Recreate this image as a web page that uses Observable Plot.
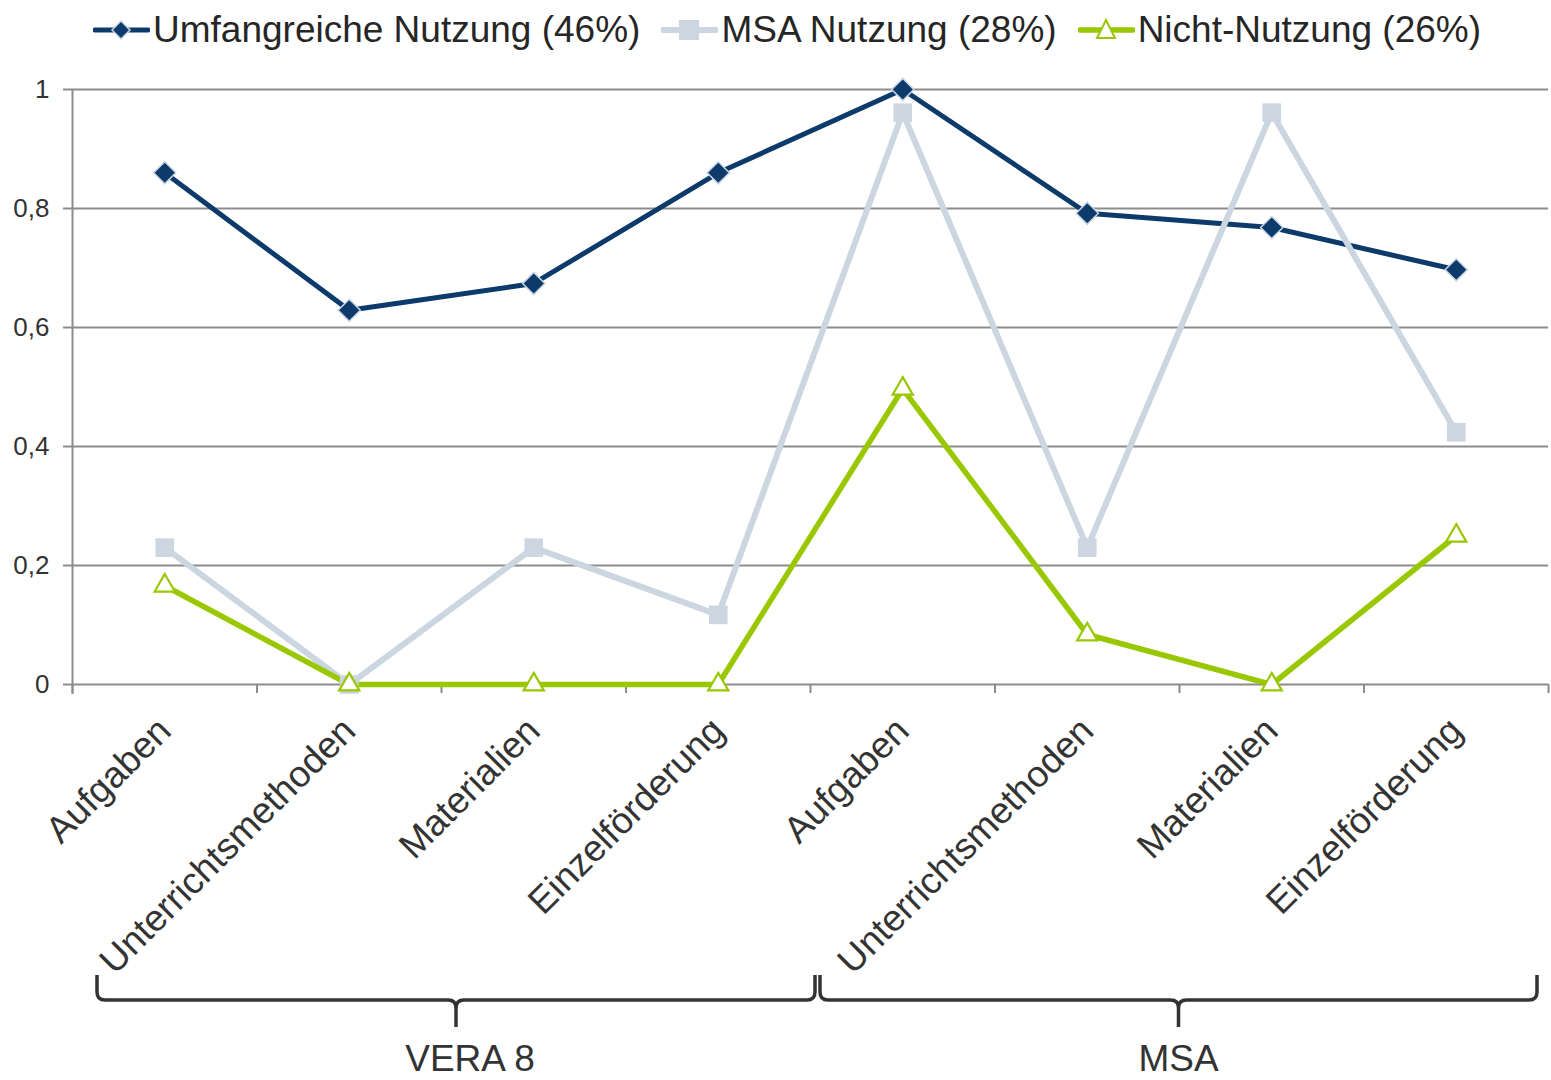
<!DOCTYPE html>
<html>
<head>
<meta charset="utf-8">
<script src="https://cdn.jsdelivr.net/npm/d3@7"></script>
<script src="https://cdn.jsdelivr.net/npm/@observablehq/plot@0.6"></script>
<style>
  body { margin: 0; background: #fff; font-family: "Liberation Sans", Arial, sans-serif; }
  #legend { height: 60px; display: flex; align-items: center; padding-left: 93px; color: #262626; font-size: 37px; }
  .item { display: flex; align-items: center; margin-right: 21px; }
  .item svg { margin-right: 3px; }
</style>
</head>
<body>
<div id="legend"></div>
<div id="chart"></div>
<script>
const categories = ["Aufgaben", "Unterrichtsmethoden", "Materialien", "Einzelförderung",
                    "Aufgaben", "Unterrichtsmethoden", "Materialien", "Einzelförderung"];
const groups = [
  {name: "VERA 8", start: 0, end: 3},
  {name: "MSA", start: 4, end: 7}
];
const seriesNames = ["Umfangreiche Nutzung (46%)", "MSA Nutzung (28%)", "Nicht-Nutzung (26%)"];
const umfangreiche = [0.86, 0.629, 0.674, 0.86, 1.0, 0.792, 0.768, 0.697];
const msaNutzung   = [0.23, 0.0, 0.23, 0.117, 0.961, 0.23, 0.961, 0.424];
const nichtNutzung = [0.166, 0.0, 0.0, 0.0, 0.497, 0.084, 0.0, 0.25];
const yTicks = [0, 0.2, 0.4, 0.6, 0.8, 1];

const colors = ["#0b3a6b", "#cbd6e1", "#99c700"];
const styles = [
  {symbol: "diamond2", r: 10, fill: colors[0], stroke: "#c9d5e3", sw: 1.5, lw: 5},
  {symbol: "square", r: 10.5, fill: colors[1], stroke: "none", sw: 0, lw: 6},
  {symbol: "triangle", r: 7.5, fill: "#fff", stroke: colors[2], sw: 2.2, lw: 5.5}
];
// brace end insets (px) relative to group boundaries: [left, right]
const braceInsets = [[25, 5], [10, -11]];
const seriesValues = [umfangreiche, msaNutzung, nichtNutzung];

const data = [];
seriesValues.forEach((vals, s) => vals.forEach((v, i) => data.push({series: seriesNames[s], s, i, v})));

// Legend
const legend = document.getElementById("legend");
seriesNames.forEach((name, s) => {
  const st = styles[s];
  const item = document.createElement("div");
  item.className = "item";
  let marker;
  if (s === 0) marker = `<path d="M28,20 L37,29 L28,38 L19,29 Z" fill="${st.fill}" stroke="#c9d5e3" stroke-width="1.5"/>`;
  else if (s === 1) marker = `<rect x="18" y="19" width="20" height="20" fill="${st.fill}"/>`;
  else marker = `<path d="M28,19 L37,37 L19,37 Z" fill="#fff" stroke="${colors[2]}" stroke-width="2"/>`;
  item.innerHTML = `<svg width="57" height="58"><line x1="2" x2="55" y1="29" y2="29" stroke="${colors[s]}" stroke-width="${st.lw}" stroke-linecap="round"/>${marker}</svg><span>${name}</span>`;
  legend.appendChild(item);
});

const W = 1551, H = 1020, mL = 72, mR = 3, mT = 29, mB = 396;

function braceEnds(grp, k, x) {
  return [x(grp.start - 0.5) + braceInsets[k][0], x(grp.end + 0.5) + braceInsets[k][1]];
}

function braces(index, scales, values, dimensions) {
  const g = d3.create("svg:g").attr("fill", "none").attr("stroke", "#333").attr("stroke-width", 3.5);
  const base = dimensions.height - dimensions.marginBottom;
  const yTop = base + 291, yLine = base + 316, yNotch = base + 343, r = 8;
  groups.forEach((grp, k) => {
    const [x0, x1] = braceEnds(grp, k, scales.x);
    const xm = (x0 + x1) / 2;
    const d = `M${x0},${yTop} L${x0},${yLine - r} Q${x0},${yLine} ${x0 + r},${yLine} L${xm - r},${yLine} Q${xm},${yLine} ${xm},${yLine + r} L${xm},${yNotch}` +
              ` M${xm},${yLine + r} Q${xm},${yLine} ${xm + r},${yLine} L${x1 - r},${yLine} Q${x1},${yLine} ${x1},${yLine - r} L${x1},${yTop}`;
    g.append("path").attr("d", d);
    g.append("text").attr("x", xm + (k === 0 ? 14 : 0)).attr("y", base + 374).attr("dy", "0.35em")
      .attr("text-anchor", "middle").attr("stroke", "none").attr("fill", "#333")
      .attr("font-size", 37).text(grp.name);
  });
  return g.node();
}

const fmt = d => (d === 0 || d === 1) ? String(d) : d.toFixed(1).replace(".", ",");

const chart = Plot.plot({
  width: W, height: H,
  marginLeft: mL, marginRight: mR, marginTop: mT, marginBottom: mB,
  style: {fontFamily: "Liberation Sans, Arial, sans-serif", color: "#333", background: "#fff"},
  x: {type: "linear", domain: [-0.5, 7.5]},
  y: {domain: [0, 1]},
  marks: [
    Plot.ruleY(yTicks, {stroke: "#8c8c8c", strokeWidth: 2}),
    Plot.ruleX([-0.5], {stroke: "#8c8c8c", strokeWidth: 2, insetBottom: -10}),
    Plot.axisY({ticks: yTicks, tickFormat: fmt, tickSize: 9, tickPadding: 14, fontSize: 26, stroke: "#8c8c8c", strokeWidth: 2, color: "#333", label: null}),
    Plot.axisX({ticks: d3.range(-0.5, 8, 1), tickFormat: () => "", tickSize: 9, stroke: "#8c8c8c", strokeWidth: 2, label: null}),
    Plot.axisX({ticks: d3.range(0, 8), tickFormat: i => categories[i], tickSize: 0, tickPadding: 40, tickRotate: -45, fontSize: 37, color: "#333", label: null}),
    ...[0, 1, 2].map(s => Plot.line(data.filter(d => d.s === s), {x: "i", y: "v", stroke: colors[s], strokeWidth: styles[s].lw})),
    ...[1, 0, 2].map(s => Plot.dot(data.filter(d => d.s === s), {x: "i", y: "v", symbol: styles[s].symbol, r: styles[s].r, fill: styles[s].fill, stroke: styles[s].stroke, strokeWidth: styles[s].sw})),
    braces
  ]
});
document.getElementById("chart").appendChild(chart);
</script>
</body>
</html>
